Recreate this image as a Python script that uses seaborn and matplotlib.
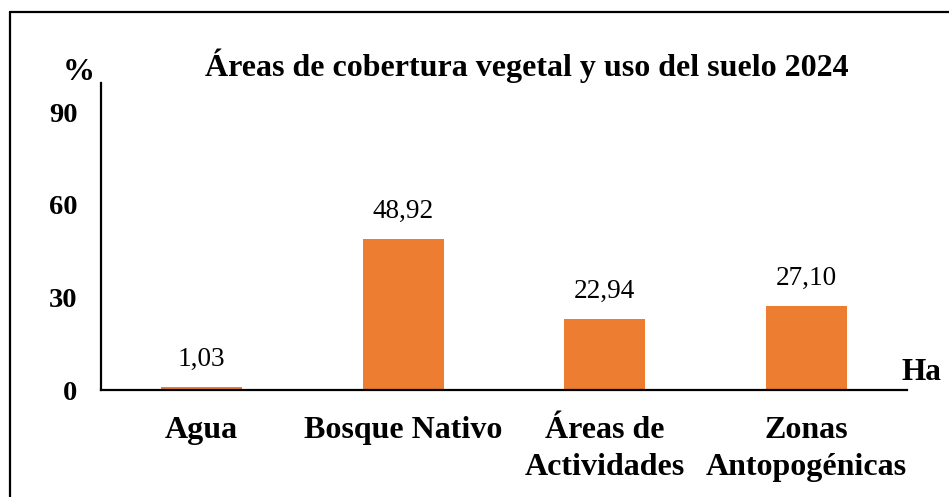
import matplotlib
matplotlib.use("Agg")
import matplotlib.pyplot as plt
import seaborn as sns
import pandas as pd
from matplotlib.lines import Line2D

categories = ["Agua", "Bosque Nativo", "Áreas de\nActividades", "Zonas\nAntopogénicas"]
values = [1.03, 48.92, 22.94, 27.10]
value_labels = ["1,03", "48,92", "22,94", "27,10"]
yticks = [0, 30, 60, 90]
title = "Áreas de cobertura vegetal y uso del suelo 2024"

sns.set_theme(style="white")
plt.rcParams["font.family"] = ["Liberation Serif", "DejaVu Serif"]
plt.rcParams["text.color"] = "black"
plt.rcParams["xtick.color"] = "black"
plt.rcParams["ytick.color"] = "black"
plt.rcParams["axes.labelcolor"] = "black"

W, H = 949, 497
fig = plt.figure(figsize=(W / 100, H / 100), dpi=100)
ax = fig.add_axes([101 / W, 1 - 390 / H, (907 - 101) / W, (390 - 83) / H])

df = pd.DataFrame({"cat": categories, "val": values})
sns.barplot(data=df, x="cat", y="val", ax=ax, color="#ED7D31", width=0.4,
            saturation=1, edgecolor="none")

ax.set_xlim(-0.5, 3.5)
ax.set_ylim(0, 99.5)
ax.set_yticks(yticks)
ax.set_yticklabels([str(t) for t in yticks], fontsize=20.5, fontweight="bold")
ax.set_xticks(range(len(categories)))
ax.set_xticklabels(categories, fontsize=23, fontweight="bold", linespacing=1.4, va="top")
ax.tick_params(axis="both", length=0)
ax.tick_params(axis="y", pad=17)
ax.tick_params(axis="x", pad=18.5)
ax.set_xlabel("")
ax.set_ylabel("")

for s in ["top", "right"]:
    ax.spines[s].set_visible(False)
for s in ["left", "bottom"]:
    ax.spines[s].set_color("black")
    ax.spines[s].set_linewidth(1.6)

for i, (v, lab) in enumerate(zip(values, value_labels)):
    ax.annotate(lab, (i, v), xytext=(0, 20), textcoords="offset points",
                ha="center", va="center", fontsize=19.6, color="black")

fig.text(526.5 / W, 1 - 66 / H, title, ha="center", va="center", fontsize=23, fontweight="bold")
fig.text(79 / W, 1 - 72 / H, "%", ha="center", va="center", fontsize=23, fontweight="bold")
fig.text(921 / W, 1 - 373 / H, "Ha", ha="center", va="center", fontsize=22.5, fontweight="bold")

# outer frame (only top and left edges visible)
fig.add_artist(Line2D([9.5 / W, 1.0], [1 - 11.5 / H, 1 - 11.5 / H], color="black", lw=1.6,
                      transform=fig.transFigure))
fig.add_artist(Line2D([9.5 / W, 9.5 / W], [0.0, 1 - 11.5 / H], color="black", lw=1.6,
                      transform=fig.transFigure))

fig.savefig("out.png", dpi=100)
